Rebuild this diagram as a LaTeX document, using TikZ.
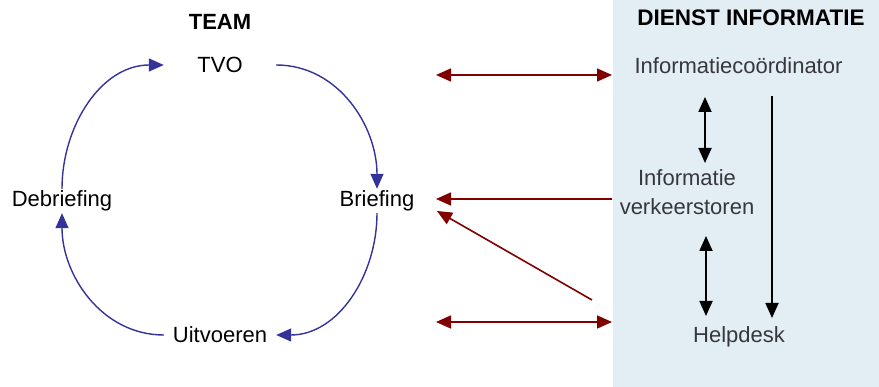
\documentclass[tikz,border=0pt]{standalone}
\usepackage{fontspec}
\setmainfont{Liberation Sans}
\usepackage{tikz}
\usetikzlibrary{positioning,arrows.meta}
\definecolor{cycblue}{RGB}{51,51,153}
\definecolor{linkred}{RGB}{128,0,0}
\definecolor{panelblue}{RGB}{226,237,244}
\definecolor{paneltext}{RGB}{55,55,60}
\tikzset{>={Triangle[length=15pt,width=13pt]}}
\tikzset{
  step node/.style={minimum width=112pt, minimum height=24pt, inner sep=0pt,
    font=\fontsize{22}{26}\selectfont},
  cycle arrow/.style={->, draw=cycblue, line width=1.4pt},
  link arrow/.style={draw=linkred, line width=1.6pt},
  info node/.style={text=paneltext, font=\fontsize{22}{29}\selectfont, align=center},
  info arrow/.style={line width=1.8pt}
}

\begin{document}
\begin{tikzpicture}[x=1pt, y=1pt]
    \useasboundingbox (0,0) rectangle (879,387);
    \fill[panelblue] (613,0) rectangle (879,387);

    % team cycle
    \node[step node] (TVO) at (220,322) {TVO};
    \node[step node] (Brf) at (377,186) {Briefing};
    \node[step node] (Uit) at (220,52)  {Uitvoeren};
    \node[step node] (Deb) at (62,186)  {Debriefing};
    \node[above=20pt of TVO, font=\fontsize{22}{26}\selectfont\bfseries] (team) {TEAM};

    \draw[cycle arrow] (TVO) to[out=0,   in=90]  (Brf);
    \draw[cycle arrow] (Brf) to[out=-90, in=0]   (Uit);
    \draw[cycle arrow] (Uit) to[out=180, in=-90] (Deb);
    \draw[cycle arrow] (Deb) to[out=90,  in=180] (TVO);

    % dienst informatie
    \node[font=\fontsize{22.5}{26}\selectfont\bfseries] (dienst) at (751,369) {DIENST INFORMATIE};
    \node[info node] (IC) at (738.5,321) {Informatiecoördinator};
    \node[info node] (IV) at (687,195)   {Informatie\\verkeerstoren};
    \node[info node] (HD) at (739,50)    {Helpdesk};

    \coordinate (icA) at (705,290);  \coordinate (ivA) at (705,224);
    \coordinate (ivB) at (706,151);  \coordinate (hdB) at (706,71);
    \coordinate (icC) at (772,291);  \coordinate (hdC) at (772,69);

    \draw[info arrow, <->] (icA) -- (ivA);
    \draw[info arrow, <->] (ivB) -- (hdB);
    \draw[info arrow, ->]  (icC) -- (hdC);

    % links between team and dienst
    \coordinate (tvoL) at (436,312);  \coordinate (tvoR) at (612,312);
    \coordinate (brfL) at (436,188);  \coordinate (brfR) at (612,188);
    \coordinate (diaL) at (437,176);  \coordinate (diaR) at (592,87);
    \coordinate (uitL) at (436,65);   \coordinate (uitR) at (612,65);

    \draw[link arrow, <->] (tvoL) -- (tvoR);
    \draw[link arrow, ->]  (brfR) -- (brfL);
    \draw[link arrow, ->]  (diaR) -- (diaL);
    \draw[link arrow, <->] (uitL) -- (uitR);
\end{tikzpicture}
\end{document}
